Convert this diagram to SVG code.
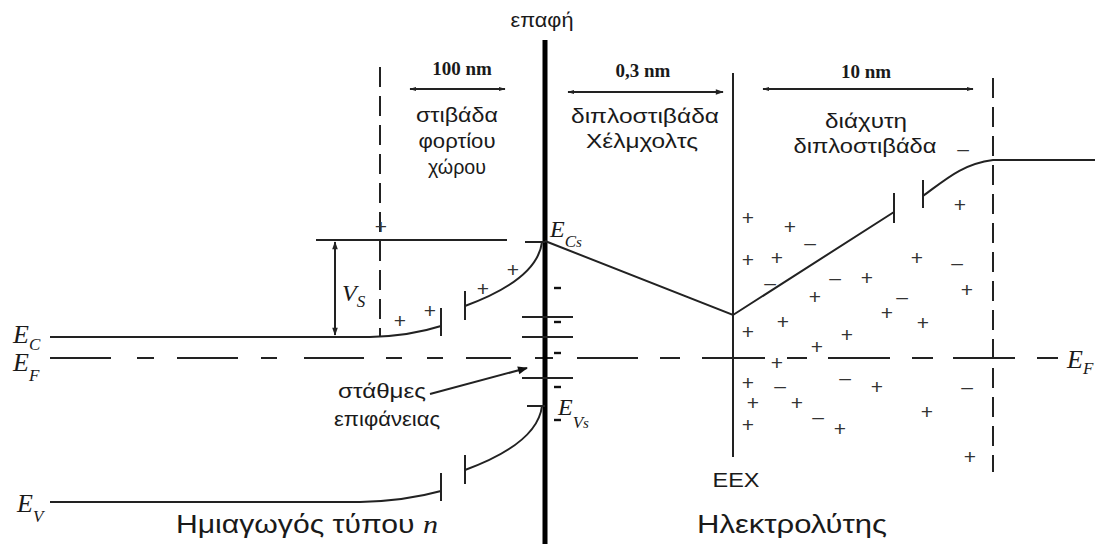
<svg xmlns="http://www.w3.org/2000/svg" width="1105" height="544" viewBox="0 0 1105 544">
<style>
.ln{stroke:#222;stroke-width:2;fill:none}
.thk{stroke:#000;stroke-width:5;fill:none}
.dsh{stroke:#222;stroke-width:2;fill:none;stroke-dasharray:20 9}
.gr{font-family:"Liberation Sans","DejaVu Sans",sans-serif;fill:#1a1a1a;font-size:21px;text-anchor:middle}
.big{font-family:"Liberation Sans","DejaVu Sans",sans-serif;fill:#1a1a1a;font-size:25px}
.dim{font-family:"Liberation Serif","Times New Roman",serif;font-weight:bold;fill:#1a1a1a;font-size:19px;text-anchor:middle}
.mth{font-family:"Liberation Serif","Times New Roman",serif;font-style:italic;fill:#1a1a1a;font-size:26px}
.sub{font-size:17px}
.ch{font-family:"Liberation Sans","DejaVu Sans",sans-serif;fill:#333;font-size:21px;text-anchor:middle}
.sm{stroke:#111;stroke-width:2.4}
</style>
<defs>
<marker id="ah" viewBox="0 0 10 10" refX="9" refY="5" markerWidth="9" markerHeight="8" orient="auto-start-reverse" markerUnits="userSpaceOnUse"><path d="M0,1.5 L10,5 L0,8.5 Z" fill="#222"/></marker>
<marker id="ahs" viewBox="0 0 10 10" refX="9" refY="5" markerWidth="7" markerHeight="7" orient="auto-start-reverse" markerUnits="userSpaceOnUse"><path d="M0,2 L10,5 L0,8 Z" fill="#222"/></marker>
<marker id="ahb" viewBox="0 0 10 10" refX="9" refY="5" markerWidth="13" markerHeight="10" orient="auto" markerUnits="userSpaceOnUse"><path d="M0,1 L10,5 L0,9 Z" fill="#111"/></marker>
</defs>
<rect width="1105" height="544" fill="#fff"/>

<g id="connectors">
<!-- EF dashed line -->
<path class="ln" d="M50,358 H111 M137,358 H154 M177,358 H238 M261,358 H277 M304,358 H364 M386,358 H402 M427,358 H443 M466,358 H511 M535,358 H553 M577,358 H638 M660,358 H680 M702,358 H765 M787,358 H807 M828,358 H890 M912,358 H933 M953,358 H1015 M1037,358 H1058"/>
<!-- boundary dashed lines -->
<line class="dsh" x1="380" y1="67" x2="380" y2="337"/>
<line class="dsh" x1="993" y1="78" x2="993" y2="472"/>
<!-- EEX -->
<line class="ln" x1="733" y1="73" x2="733" y2="457"/>
<!-- Contact thick line -->
<line class="thk" x1="545" y1="40" x2="545" y2="544"/>
<!-- Vs top line -->
<line class="ln" x1="316" y1="240" x2="507" y2="240"/>
<line class="ln" x1="525" y1="242" x2="545" y2="242"/>
<!-- Vs arrow -->
<line class="ln" x1="335" y1="242" x2="335" y2="335" marker-start="url(#ah)" marker-end="url(#ah)"/>
<!-- EC band -->
<path class="ln" d="M50,337 H370 Q410,336 441,326"/>
<line class="ln" x1="441" y1="308" x2="441" y2="336"/>
<line class="ln" x1="465" y1="291" x2="465" y2="320"/>
<path class="ln" d="M465,306 C495,295 538,275 542,242"/>
<!-- EV band -->
<path class="ln" d="M50,502 H360 Q405,501 441,491"/>
<line class="ln" x1="441" y1="473" x2="441" y2="501"/>
<line class="ln" x1="465" y1="455" x2="465" y2="484"/>
<path class="ln" d="M465,470 C495,459 538,439 542,406"/>
<line class="ln" x1="527" y1="406" x2="545" y2="406"/>
<!-- surface states -->
<line class="ln" x1="522" y1="317" x2="573" y2="317"/>
<line class="ln" x1="522" y1="337" x2="573" y2="337"/>
<line class="ln" x1="522" y1="378" x2="573" y2="378"/>
<line class="sm" x1="554" y1="288" x2="561" y2="288"/>
<line class="sm" x1="554" y1="322" x2="561" y2="322"/>
<line class="sm" x1="554" y1="353" x2="561" y2="353"/>
<line class="sm" x1="554" y1="387" x2="561" y2="387"/>
<line class="sm" x1="554" y1="420" x2="561" y2="420"/>
<!-- potential in electrolyte -->
<path class="ln" d="M545,241 L733,315 L894,212"/>
<line class="ln" x1="894" y1="193" x2="894" y2="223"/>
<line class="ln" x1="923" y1="180" x2="923" y2="208"/>
<path class="ln" d="M923,196 C945,180 962,164 993,160 H1095"/>
<!-- dimension arrows -->
<line class="ln" x1="410" y1="89" x2="505" y2="89" marker-start="url(#ahs)" marker-end="url(#ahs)"/>
<line class="ln" x1="568" y1="92" x2="723" y2="92" marker-start="url(#ahs)" marker-end="url(#ah)"/>
<line class="ln" x1="763" y1="89" x2="973" y2="89" marker-start="url(#ahs)" marker-end="url(#ahs)"/>
<!-- surface states pointer -->
<line class="ln" x1="430" y1="394" x2="527" y2="368" marker-end="url(#ahb)"/>
</g>

<g id="labels">
<text class="gr" x="542" y="27" textLength="63" lengthAdjust="spacingAndGlyphs">επαφή</text>
<text class="dim" x="462" y="75">100 nm</text>
<text class="dim" x="643" y="77">0,3 nm</text>
<text class="dim" x="866" y="78">10 nm</text>
<text class="gr" x="457" y="122" textLength="82" lengthAdjust="spacingAndGlyphs">στιβάδα</text>
<text class="gr" x="457" y="148" textLength="77" lengthAdjust="spacingAndGlyphs">φορτίου</text>
<text class="gr" x="457" y="174" textLength="58" lengthAdjust="spacingAndGlyphs">χώρου</text>
<text class="gr" x="645" y="123" textLength="148" lengthAdjust="spacingAndGlyphs">διπλοστιβάδα</text>
<text class="gr" x="642" y="148" textLength="112" lengthAdjust="spacingAndGlyphs">Χέλμχολτς</text>
<text class="gr" x="866" y="128" textLength="82" lengthAdjust="spacingAndGlyphs">διάχυτη</text>
<text class="gr" x="865" y="153" textLength="143" lengthAdjust="spacingAndGlyphs">διπλοστιβάδα</text>
<text class="gr" x="382" y="398" textLength="88" lengthAdjust="spacingAndGlyphs">στάθμες</text>
<text class="gr" x="387" y="426" textLength="106" lengthAdjust="spacingAndGlyphs">επιφάνειας</text>
<text class="gr" x="736" y="487" textLength="47" lengthAdjust="spacingAndGlyphs">EEX</text>
<text class="big" x="176" y="533" textLength="262" lengthAdjust="spacingAndGlyphs">Ημιαγωγός τύπου <tspan font-family="Liberation Serif" font-style="italic">n</tspan></text>
<text class="big" x="697" y="533" textLength="190" lengthAdjust="spacingAndGlyphs">Ηλεκτρολύτης</text>
<text class="mth" x="13" y="343">E<tspan class="sub" dy="7">C</tspan></text>
<text class="mth" x="13" y="371">E<tspan class="sub" dy="10">F</tspan></text>
<text class="mth" x="17" y="512">E<tspan class="sub" dy="10">V</tspan></text>
<text class="mth" x="1067" y="368">E<tspan class="sub" dy="6">F</tspan></text>
<text class="mth" x="342" y="301" style="font-size:24px">V<tspan class="sub" dy="6">S</tspan></text>
<text class="mth" x="550" y="237" style="font-size:24px">E<tspan class="sub" dy="10">C</tspan><tspan style="font-size:15px">s</tspan></text>
<text class="mth" x="558" y="415" style="font-size:24px">E<tspan class="sub" dy="13">V</tspan><tspan style="font-size:15px">s</tspan></text>
</g>

<g id="charges">
<text class="ch" x="381" y="234">+</text>
<text class="ch" x="400" y="328">+</text>
<text class="ch" x="430" y="318">+</text>
<text class="ch" x="483" y="296">+</text>
<text class="ch" x="513" y="277">+</text>
<text class="ch" x="748" y="225">+</text>
<text class="ch" x="790" y="234">+</text>
<text class="ch" x="748" y="267">+</text>
<text class="ch" x="777" y="265">+</text>
<text class="ch" x="867" y="285">+</text>
<text class="ch" x="815" y="304">+</text>
<text class="ch" x="917" y="265">+</text>
<text class="ch" x="967" y="297">+</text>
<text class="ch" x="783" y="329">+</text>
<text class="ch" x="748" y="339">+</text>
<text class="ch" x="887" y="320">+</text>
<text class="ch" x="923" y="330">+</text>
<text class="ch" x="847" y="342">+</text>
<text class="ch" x="817" y="354">+</text>
<text class="ch" x="777" y="370">+</text>
<text class="ch" x="748" y="390">+</text>
<text class="ch" x="877" y="394">+</text>
<text class="ch" x="753" y="410">+</text>
<text class="ch" x="797" y="410">+</text>
<text class="ch" x="927" y="419">+</text>
<text class="ch" x="748" y="432">+</text>
<text class="ch" x="840" y="436">+</text>
<text class="ch" x="970" y="464">+</text>
<text class="ch" x="960" y="212">+</text>
<text class="ch" x="810" y="250">–</text>
<text class="ch" x="770" y="290">–</text>
<text class="ch" x="835" y="285">–</text>
<text class="ch" x="902" y="304">–</text>
<text class="ch" x="957" y="270">–</text>
<text class="ch" x="780" y="393">–</text>
<text class="ch" x="845" y="385">–</text>
<text class="ch" x="818" y="424">–</text>
<text class="ch" x="967" y="394">–</text>
<text class="ch" x="963" y="156">–</text>
</g>
</svg>
